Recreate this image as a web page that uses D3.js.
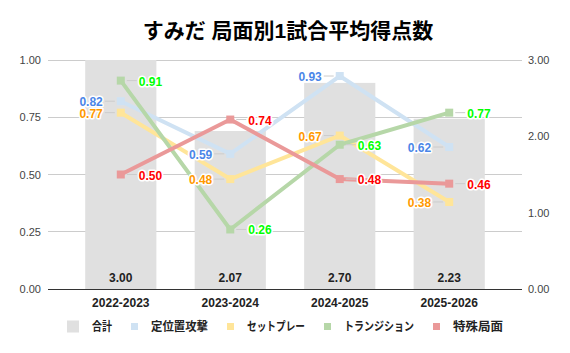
<!DOCTYPE html>
<html><head><meta charset="utf-8">
<script src="https://cdn.jsdelivr.net/npm/d3@7"></script>
<style>
body{margin:0;background:#fff;}
svg{font-family:"Liberation Sans",Arial,"Noto Sans CJK JP",sans-serif;}
</style></head>
<body><svg id="c" width="570" height="353"></svg>
<script>
const title = "すみだ 局面別1試合平均得点数";
const categories = ["2022-2023","2023-2024","2024-2025","2025-2026"];
const totals = [3.00, 2.07, 2.70, 2.23];
const seriesNames = ["定位置攻撃","セットプレー","トランジション","特殊局面"];
const setPiece = [0.82, 0.59, 0.93, 0.62];
const setPlay = [0.77, 0.48, 0.67, 0.38];
const transition = [0.91, 0.26, 0.63, 0.77];
const special = [0.50, 0.74, 0.48, 0.46];
const leftTicks = [0, 0.25, 0.5, 0.75, 1];
const rightTicks = [0, 1, 2, 3];

const lineColors = ["#cfe2f3","#ffe599","#b6d7a8","#ea9999"];
const labelColors = ["#4a86e8","#ff9900","#00ff00","#ff0000"];
const labelSide = [-1,-1,1,1];
const barColor = "#e0e0e0";
const seriesData = [setPiece, setPlay, transition, special];
// legend text widths (layout)
const legendTextWidths = [20, 57, 58, 70, 50];

const svg = d3.select("#c");
const L = 48, R = 522, T = 60, B = 289;

const x = d3.scaleBand().domain(categories).range([L, R]).paddingInner(0.35).paddingOuter(0.34);
const yL = d3.scaleLinear().domain([0,1]).range([B,T]);
const yR = d3.scaleLinear().domain([0,3]).range([B,T]);

// title
svg.append("text").attr("x", 288).attr("y", 38).attr("text-anchor","middle")
  .attr("font-size", 21).attr("font-weight","bold").attr("fill","#000").text(title);

// gridlines
svg.append("g").selectAll("line").data(leftTicks.slice(1)).join("line")
  .attr("x1", L).attr("x2", R).attr("y1", d=>yL(d)).attr("y2", d=>yL(d))
  .attr("stroke","#cccccc").attr("stroke-width",1).attr("shape-rendering","crispEdges");

// bars
svg.append("g").selectAll("rect").data(totals).join("rect")
  .attr("x",(d,i)=>x(categories[i])).attr("width", x.bandwidth())
  .attr("y", d=>yR(d)).attr("height", d=>B - yR(d)).attr("fill", barColor);

svg.append("g").selectAll("text").data(totals).join("text")
  .attr("x",(d,i)=>x(categories[i]) + x.bandwidth()/2).attr("y", B - 7)
  .attr("text-anchor","middle").attr("font-size",12).attr("font-weight","bold").attr("fill","#222")
  .text(d=>d.toFixed(2));

// baseline
svg.append("line").attr("x1",L).attr("x2",R).attr("y1",B).attr("y2",B)
  .attr("stroke","#333").attr("stroke-width",1).attr("shape-rendering","crispEdges");

// axes
const axL = svg.append("g").attr("transform",`translate(${L-7},0)`)
  .call(d3.axisLeft(yL).tickValues(leftTicks).tickFormat(d3.format(".2f")).tickSize(0));
const axR = svg.append("g").attr("transform",`translate(${R+6},0)`)
  .call(d3.axisRight(yR).tickValues(rightTicks).tickFormat(d3.format(".2f")).tickSize(0));
[axL, axR].forEach(a=>{
  a.select(".domain").remove();
  a.selectAll("text").attr("font-size",11).attr("fill","#444")
    .attr("font-family",'"Liberation Sans",Arial,sans-serif').attr("dx",0);
});
axL.selectAll("text").attr("x",0);
axR.selectAll("text").attr("x",0);

const axX = svg.append("g").attr("transform",`translate(0,${B})`)
  .call(d3.axisBottom(x).tickSize(0));
axX.select(".domain").remove();
axX.selectAll("text").attr("font-size",12).attr("font-weight","bold").attr("fill","#222")
  .attr("font-family",'"Liberation Sans",Arial,sans-serif').attr("y",9);

// lines
const cx = i => x(categories[i]) + x.bandwidth()/2;
const lineGen = d3.line().x((d,i)=>cx(i)).y(d=>yL(d));
seriesData.forEach((s,k)=>{
  const g = svg.append("g");
  g.append("path").datum(s).attr("d", lineGen).attr("fill","none")
    .attr("stroke", lineColors[k]).attr("stroke-width",4).attr("stroke-linejoin","round");
  g.selectAll("rect").data(s).join("rect")
    .attr("x",(d,i)=>cx(i)-4).attr("y",d=>yL(d)-4).attr("width",8).attr("height",8)
    .attr("fill", lineColors[k]);
});

// data labels
seriesData.forEach((s,k)=>{
  const sd = labelSide[k];
  const g = svg.append("g");
  g.selectAll("line").data(s).join("line")
    .attr("x1",(d,i)=>cx(i)+sd*6).attr("x2",(d,i)=>cx(i)+sd*16)
    .attr("y1",d=>yL(d)).attr("y2",d=>yL(d))
    .attr("stroke","#cccccc").attr("stroke-width",1);
  g.selectAll("text").data(s).join("text")
    .attr("x",(d,i)=>cx(i)+sd*18).attr("y",d=>yL(d)+5)
    .attr("text-anchor", sd<0 ? "end":"start")
    .attr("font-size",12).attr("font-weight","bold").attr("fill",labelColors[k])
    .attr("stroke","#fff").attr("stroke-width",3).attr("paint-order","stroke").attr("stroke-linejoin","round")
    .text(d=>d.toFixed(2));
});

// legend
const legendItems = [{name:"合計", color:barColor, size:12}].concat(
  seriesNames.map((n,i)=>({name:n, color:lineColors[i], size:7})));
const lg = svg.append("g").attr("transform","translate(67,326.5)");
let lx = 0;
legendItems.forEach((it,i)=>{
  lg.append("rect").attr("x", lx).attr("y", -it.size/2).attr("width",it.size).attr("height",it.size).attr("fill",it.color);
  const tx = lx + it.size + 13;
  lg.append("text").attr("x",tx).attr("y",4.5).attr("font-size",12).attr("font-weight","bold")
    .attr("fill","#222").attr("textLength",legendTextWidths[i]).attr("lengthAdjust","spacingAndGlyphs")
    .text(it.name);
  lx = tx + legendTextWidths[i] + 19;
});
</script></body></html>
